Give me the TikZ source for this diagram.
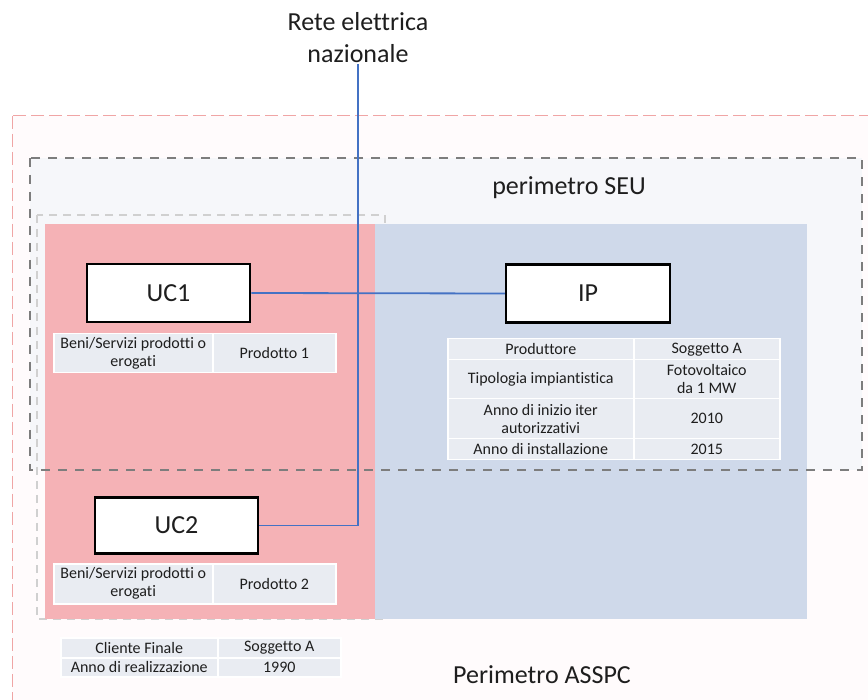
\documentclass[tikz,border=0pt]{standalone}
\usepackage{fontspec}
\setmainfont{Carlito}[Ligatures=NoCommon]

\definecolor{gridblue}{RGB}{68,114,196}
\definecolor{userpink}{RGB}{245,178,182}
\definecolor{plantblue}{RGB}{207,217,234}
\definecolor{cellgray}{RGB}{233,236,242}
\definecolor{asspcred}{RGB}{240,165,165}
\definecolor{seugray}{RGB}{125,125,125}
\definecolor{ucgray}{RGB}{208,208,208}
\definecolor{asspcfill}{RGB}{255,251,252}
\definecolor{seufill}{RGB}{246,247,250}
\definecolor{inktext}{RGB}{30,30,30}

\tikzset{
  bigtext/.style={font=\fontsize{26}{32}\selectfont, text=inktext, inner sep=1pt},
  unitbox/.style={draw=black, line width=2.5pt, fill=white, minimum width=163pt,
    minimum height=58pt, inner sep=0pt, font=\fontsize{26}{30}\selectfont, text=inktext},
  cell/.style={fill=cellgray, draw=white, line width=1.5pt, inner sep=0pt, align=center,
    anchor=north west, font=\fontsize{16}{18}\selectfont, text=inktext},
  gridline/.style={draw=gridblue, line width=1.8pt},
  asspcline/.style={draw=asspcred, line width=1pt, dash pattern=on 13pt off 5pt},
  seuline/.style={draw=seugray, line width=2pt, dash pattern=on 9pt off 8pt},
  ucline/.style={draw=ucgray, line width=1.5pt, dash pattern=on 8pt off 6pt},
}

\begin{document}
\begin{tikzpicture}[x=1pt,y=-1pt]
  \useasboundingbox (0,0) rectangle (868,700);
  \clip (0,0) rectangle (868,700);

  % perimeter backgrounds
  \fill[asspcfill] (12,116) rectangle (900,720);
  \fill[seufill] (30,158) rectangle (862,470);

  % consumer-unit perimeter and the two areas
  \draw[ucline] (37,215) rectangle (385,619);
  \fill[userpink] (45,224) rectangle (375,619);
  \fill[plantblue] (375,224) rectangle (807,619);

  % SEU and ASSPC perimeters
  \draw[seuline] (30,158) rectangle (862,470);
  \draw[asspcline] (12,116) rectangle (900,720);

  % labels
  \node[bigtext, align=center, anchor=south] (grid) at (358,64) {Rete elettrica\\nazionale};
  \node[bigtext] (seu) at (569,188) {perimetro SEU};
  \node[bigtext] (asspc) at (542,675) {Perimetro ASSPC};

  % units
  \node[unitbox] (uc1) at (168.5,293) {UC1};
  \node[unitbox, minimum height=56pt] (uc2) at (176.5,525.5) {UC2};
  \node[unitbox, minimum width=164pt] (ip) at (588,293.5) {IP};

  % connections
  \draw[gridline] (uc2.east) -| (grid.south);
  \draw[gridline] (uc1.east) -- (ip.west);

  % UC1 table
  \node[cell, minimum width=159pt, minimum height=39pt] (uc1k) at (53,333) {Beni/Servizi prodotti o\\erogati};
  \node[cell, minimum width=123pt, minimum height=39pt] (uc1v) at (212,333) {Prodotto 1};

  % UC2 table
  \node[cell, minimum width=159pt, minimum height=40pt] (uc2k) at (53,563) {Beni/Servizi prodotti o\\erogati};
  \node[cell, minimum width=123pt, minimum height=40pt] (uc2v) at (212,563) {Prodotto 2};

  % IP table
  \node[cell, minimum width=186pt, minimum height=21pt] (ipk1) at (447,338) {Produttore};
  \node[cell, minimum width=146pt, minimum height=21pt] (ipv1) at (633,338) {Soggetto A};
  \node[cell, minimum width=186pt, minimum height=39pt] (ipk2) at (447,359) {Tipologia impiantistica};
  \node[cell, minimum width=146pt, minimum height=39pt] (ipv2) at (633,359) {Fotovoltaico\\da 1 MW};
  \node[cell, minimum width=186pt, minimum height=40pt] (ipk3) at (447,398) {Anno di inizio iter\\autorizzativi};
  \node[cell, minimum width=146pt, minimum height=40pt] (ipv3) at (633,398) {2010};
  \node[cell, minimum width=186pt, minimum height=21pt] (ipk4) at (447,438) {Anno di installazione};
  \node[cell, minimum width=146pt, minimum height=21pt] (ipv4) at (633,438) {2015};

  % final customer table
  \node[cell, minimum width=157pt, minimum height=20pt] (cfk1) at (60,637) {Cliente Finale};
  \node[cell, minimum width=123pt, minimum height=20pt] (cfv1) at (217,637) {Soggetto A};
  \node[cell, minimum width=157pt, minimum height=19pt] (cfk2) at (60,657) {Anno di realizzazione};
  \node[cell, minimum width=123pt, minimum height=19pt] (cfv2) at (217,657) {1990};
\end{tikzpicture}
\end{document}
